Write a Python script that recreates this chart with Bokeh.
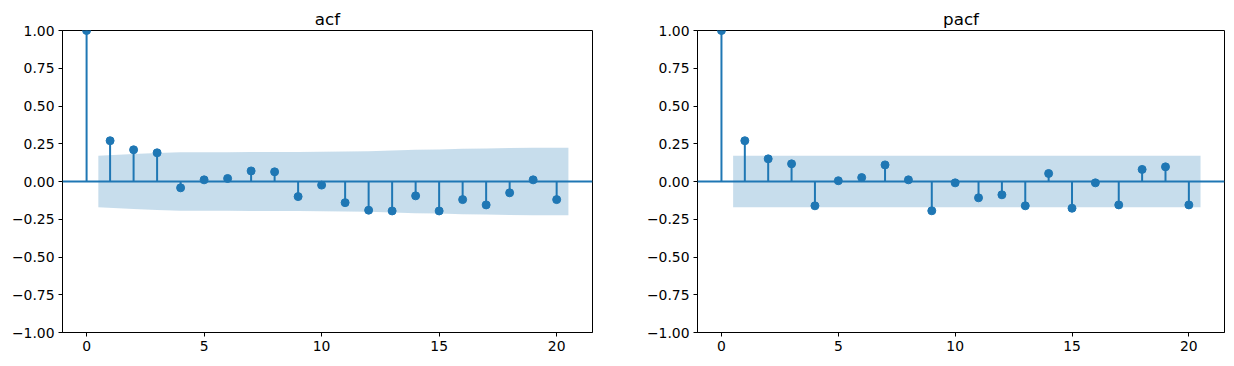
from bokeh.plotting import figure
from bokeh.layouts import row
from bokeh.models import Range1d, Span, FixedTicker, CustomJSTickFormatter
from bokeh.embed import file_html
from bokeh.resources import INLINE

lags = list(range(21))
acf_vals = [1.0, 0.27, 0.21, 0.19, -0.042, 0.011, 0.02, 0.07, 0.064, -0.10, -0.024,
            -0.14, -0.19, -0.195, -0.095, -0.195, -0.12, -0.155, -0.075, 0.011, -0.12]
acf_band = [0.170, 0.182, 0.189, 0.194, 0.194, 0.194, 0.195, 0.195, 0.196, 0.197,
            0.198, 0.200, 0.205, 0.210, 0.212, 0.217, 0.219, 0.222, 0.223, 0.223]
pacf_vals = [1.0, 0.27, 0.15, 0.117, -0.161, 0.005, 0.026, 0.11, 0.011, -0.194, -0.009,
             -0.108, -0.088, -0.161, 0.053, -0.177, -0.009, -0.155, 0.08, 0.097, -0.155]
pacf_band = [0.170] * 20

y_ticks = [-1.0, -0.75, -0.5, -0.25, 0.0, 0.25, 0.5, 0.75, 1.0]
x_ticks = [0, 5, 10, 15, 20]

C0 = "#1f77b4"
FONT = "DejaVu Sans"


def make_plot(title, vals, band, left, right, fw):
    p = figure(output_backend="svg", toolbar_location=None,
               frame_width=fw, frame_height=302,
               min_border_left=left, min_border_right=right,
               min_border_top=30, min_border_bottom=26,
               x_range=Range1d(-1.025, 21.525), y_range=Range1d(-1, 1),
               title=title)
    p.title.align = "center"
    p.title.text_font = FONT
    p.title.text_font_size = "16.7px"
    p.title.text_font_style = "normal"
    p.title.text_color = "black"
    p.title.standoff = 4
    p.grid.visible = False
    p.outline_line_color = "black"
    p.outline_line_width = 1
    p.outline_line_alpha = 1
    p.background_fill_color = "white"
    p.border_fill_color = "white"

    for ax in (p.xaxis[0], p.yaxis[0]):
        ax.axis_line_color = "black"
        ax.major_tick_line_color = "black"
        ax.major_tick_out = 4
        ax.major_tick_in = 0
        ax.minor_tick_line_color = None
        ax.major_label_text_font = FONT
        ax.major_label_text_font_size = "13.9px"
        ax.major_label_text_color = "black"
        ax.major_label_standoff = 4
    p.xaxis[0].ticker = FixedTicker(ticks=x_ticks)
    p.yaxis[0].ticker = FixedTicker(ticks=y_ticks)
    p.yaxis[0].formatter = CustomJSTickFormatter(
        code="return tick.toFixed(2).replace('-', '\u2212');")

    # stems
    p.segment(x0=lags, y0=[0] * len(lags), x1=lags, y1=vals,
              line_color=C0, line_width=2)
    # confidence band (statsmodels style: lags 1..n, ends widened by 0.5)
    bx = [float(v) for v in lags[1:]]
    bx[0] -= 0.5
    bx[-1] += 0.5
    p.varea(x=bx, y1=[-b for b in band], y2=band, fill_color=C0, fill_alpha=0.25)
    p.add_layout(Span(location=0, dimension="width", line_color=C0, line_width=2))
    p.scatter(x=lags, y=vals, size=8, fill_color=C0, line_color=C0)
    return p


p1 = make_plot("acf", acf_vals, acf_band, 62, 48, 530)
p2 = make_plot("pacf", pacf_vals, pacf_band, 57, 2, 527)
layout = row(p1, p2)
open("out.html", "w").write(file_html(layout, INLINE))
